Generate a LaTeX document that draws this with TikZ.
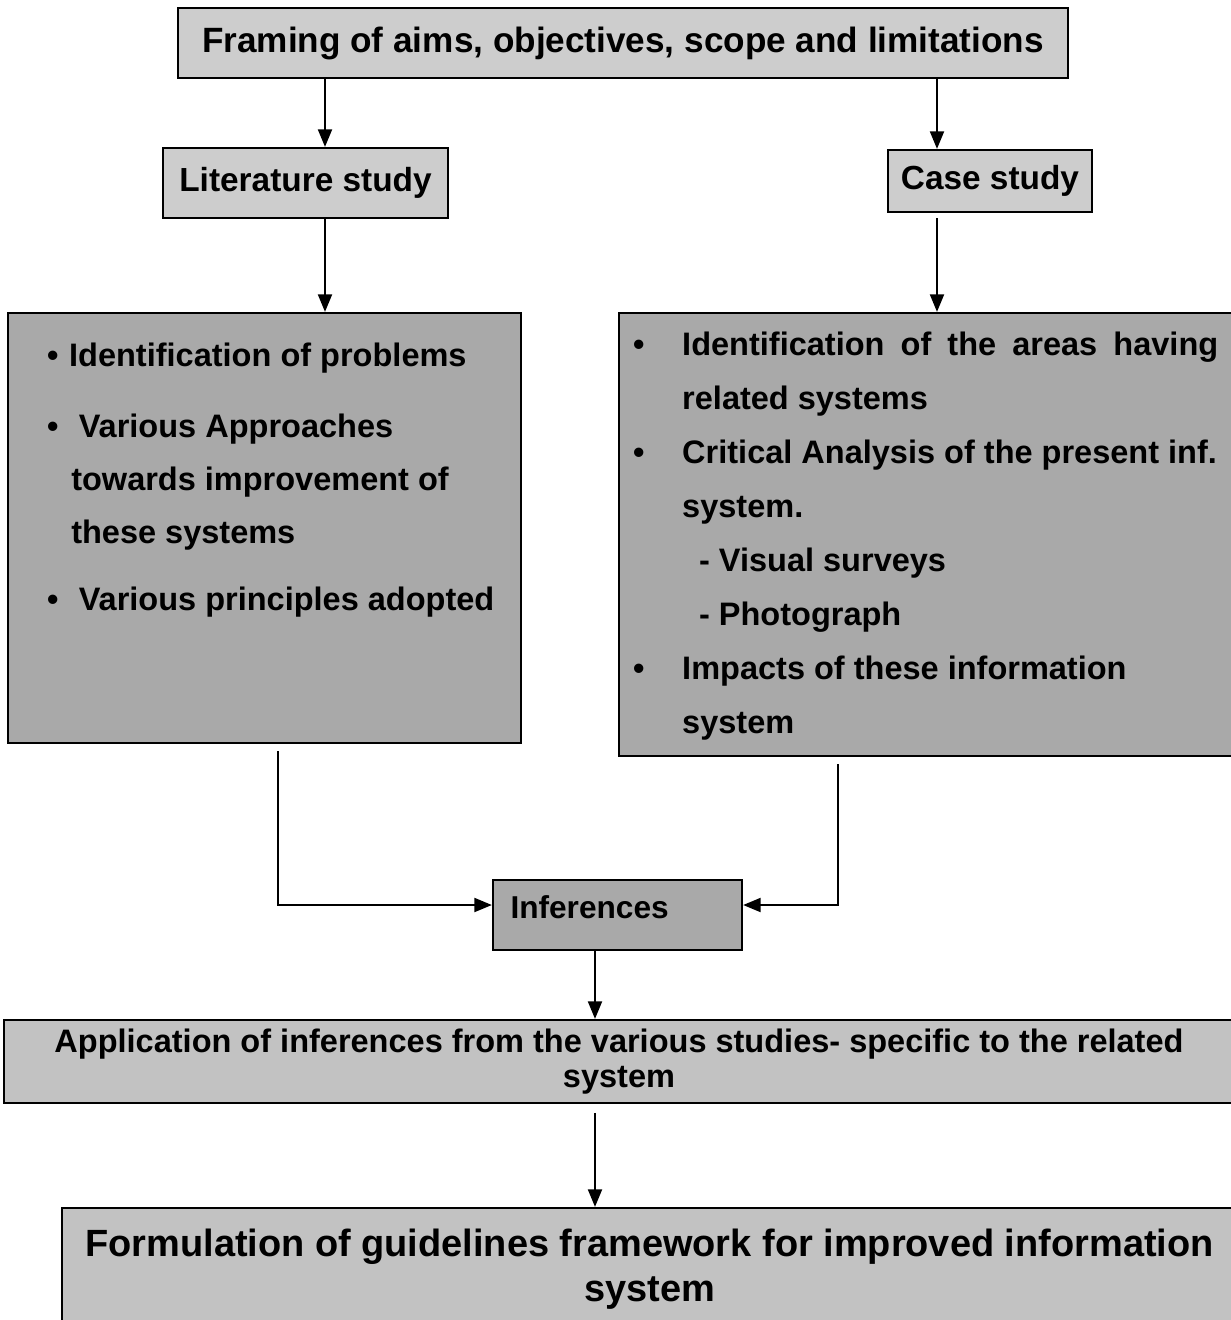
\documentclass[tikz,border=0pt]{standalone}
\usepackage{fontspec}
\setmainfont{Liberation Sans}
\usetikzlibrary{positioning,arrows.meta}
\definecolor{palestipple}{HTML}{CDCDCD}
\definecolor{midstipple}{HTML}{C2C2C2}
\definecolor{darkstipple}{HTML}{A9A9A9}

\begin{document}
\begin{tikzpicture}[box/.style={rectangle, draw=black, line width=1.3pt, inner sep=0pt, font=\bfseries}, body/.style={inner sep=0pt, align=left, font=\bfseries\fontsize{18.5}{30.2}\selectfont}]
        \useasboundingbox (0,0) rectangle (24.62,-26.4);
        % columns and rows the connectors run along
        \coordinate (colL) at (6.5,0);
        \coordinate (colR) at (18.74,0);
        \coordinate (colA) at (5.56,0);
        \coordinate (colB) at (16.76,0);
        \coordinate (colM) at (11.9,0);
        \coordinate (rowI) at (0,-18.1);
        \node[box, fill=palestipple, minimum width=17.8cm, minimum height=1.4cm, font=\bfseries\fontsize{20}{22}\selectfont] (aims) at (12.46,-0.86) {Framing of aims, objectives, scope and limitations};
        \node[box, fill=palestipple, minimum width=5.7cm, minimum height=1.4cm, font=\bfseries\fontsize{19}{22}\selectfont] (lit) at (6.11,-3.66) {Literature study};
        \node[box, fill=palestipple, minimum width=4.08cm, minimum height=1.24cm, font=\bfseries\fontsize{19}{22}\selectfont] (case) at (19.8,-3.62) {Case study};
        \node[box, fill=darkstipple, minimum width=10.26cm, minimum height=8.6cm] (litbox) at (5.29,-10.56) {};
        \node[box, fill=darkstipple, minimum width=12.3cm, minimum height=8.86cm] (casebox) at (18.53,-10.69) {};
        \node[body, below right=0.62cm and 0.8cm of litbox.north west] (littext) {%
            \makebox[12.5pt][l]{\textbullet}Identification of problems\\[10pt]
            \makebox[18pt][l]{\textbullet}Various Approaches\\
            \hspace*{13.7pt}towards improvement of\\
            \hspace*{13.7pt}these systems\\[8pt]
            \makebox[18pt][l]{\textbullet}Various principles adopted};
        \node[body, font=\bfseries\fontsize{18.5}{30.7}\selectfont, below right=0.4cm and 0.3cm of casebox.north west] (casetext) {%
            \makebox[27.9pt][l]{\textbullet}\makebox[305pt][s]{Identification of the areas having}\\
            \hspace*{27.9pt}related systems\\
            \makebox[27.9pt][l]{\textbullet}Critical Analysis of the present inf.\\
            \hspace*{27.9pt}system.\\
            \hspace*{37.5pt}- Visual surveys\\
            \hspace*{37.5pt}- Photograph\\
            \makebox[27.9pt][l]{\textbullet}Impacts of these information\\
            \hspace*{27.9pt}system};
        \node[box, fill=darkstipple, minimum width=4.98cm, minimum height=1.4cm, text width=4.28cm, align=left, font=\bfseries\fontsize{18}{21}\selectfont] (infer) at (12.35,-18.3) {\rule[-9pt]{0pt}{9pt}Inferences};
        \node[box, fill=midstipple, minimum width=24.6cm, minimum height=1.66cm, align=center, font=\bfseries\fontsize{18.5}{20}\selectfont] (appl) at (12.38,-21.23) {Application of inferences from the various studies- specific to the related\\system};
        \node[box, fill=midstipple, minimum width=23.5cm, minimum height=2.44cm, align=center, font=\bfseries\fontsize{21.6}{25.6}\selectfont] (formul) at (12.99,-25.38) {Formulation of guidelines framework for improved information\\system};
        \draw[->,>={Triangle[length=10pt,width=8pt]},line width=1.1pt] (aims.south -| colL) -- (lit.north -| colL);
        \draw[->,>={Triangle[length=10pt,width=8pt]},line width=1.1pt] (aims.south -| colR) -- (case.north -| colR);
        \draw[->,>={Triangle[length=10pt,width=8pt]},line width=1.1pt] (lit.south -| colL) -- (litbox.north -| colL);
        \draw[->,>={Triangle[length=10pt,width=8pt]},line width=1.1pt,shorten <=3pt] (case.south -| colR) -- (casebox.north -| colR);
        \draw[->,>={Triangle[length=10pt,width=8pt]},line width=1.1pt,shorten <=4pt] (litbox.south -| colA) |- (infer.west |- rowI);
        \draw[->,>={Triangle[length=10pt,width=8pt]},line width=1.1pt,shorten <=4pt] (casebox.south -| colB) |- (infer.east |- rowI);
        \draw[->,>={Triangle[length=10pt,width=8pt]},line width=1.1pt] (infer.south -| colM) -- (appl.north -| colM);
        \draw[->,>={Triangle[length=10pt,width=8pt]},line width=1.1pt,shorten <=5pt] (appl.south -| colM) -- (formul.north -| colM);
    \end{tikzpicture}
\end{document}
